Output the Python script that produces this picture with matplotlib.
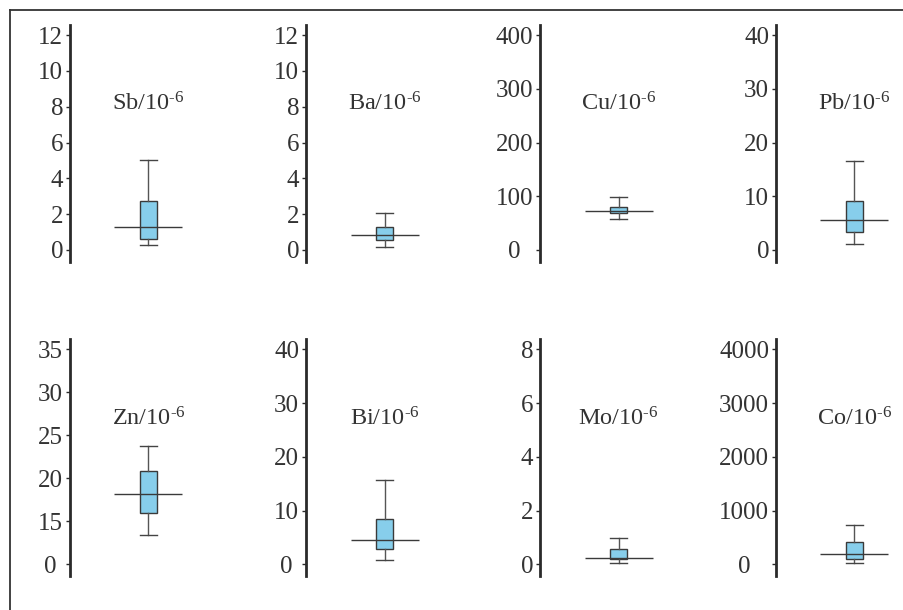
import numpy as np
import matplotlib.pyplot as plt
from matplotlib import transforms
from matplotlib.lines import Line2D

plt.rcParams['font.family'] = ['Liberation Serif', 'DejaVu Serif']
plt.rcParams['mathtext.fontset'] = 'custom'
plt.rcParams['mathtext.rm'] = 'Liberation Serif'

# data (10^-6)
elements = ['Sb', 'Ba', 'Cu', 'Pb', 'Zn', 'Bi', 'Mo', 'Co']
whislo = [0.28, 0.15, 57, 1.1, 13.4, 0.8, 0.06, 19]
q1 = [0.61, 0.56, 68, 3.3, 16.0, 2.9, 0.20, 93]
med = [1.27, 0.84, 72.6, 5.6, 18.2, 4.5, 0.25, 192]
q3 = [2.72, 1.30, 80.6, 9.2, 20.85, 8.5, 0.58, 409]
whishi = [5.0, 2.05, 98, 16.6, 23.7, 15.7, 0.99, 731]

yticks = [
    [0, 2, 4, 6, 8, 10, 12],
    [0, 2, 4, 6, 8, 10, 12],
    [0, 100, 200, 300, 400],
    [0, 10, 20, 30, 40],
    [10, 15, 20, 25, 30, 35],       # broken axis, bottom tick shown as 0
    [0, 10, 20, 30, 40],
    [0, 2, 4, 6, 8],
    [0, 1000, 2000, 3000, 4000],
]
yticklabels = [
    ['0', '2', '4', '6', '8', '10', '12'],
    ['0', '2', '4', '6', '8', '10', '12'],
    ['0', '100', '200', '300', '400'],
    ['0', '10', '20', '30', '40'],
    ['0', '15', '20', '25', '30', '35'],
    ['0', '10', '20', '30', '40'],
    ['0', '2', '4', '6', '8'],
    ['0', '1000', '2000', '3000', '4000'],
]
center_labels = [False, False, True, False, True, True, False, True]

# layout in pixels
W, H = 904, 610
spine_x = [70, 306, 540, 776]
top_tick_y = [35, 349.3]
tick_span = 215
box_pos = 78.5
box_w = 17
med_half = 34
text_col = '#333333'
line_col = '#3a3a3a'

fig = plt.figure(figsize=(W / 100, H / 100), dpi=100)
fig.patch.set_facecolor('white')

# outer frame (top and left edges)
fig.add_artist(Line2D([9.5 / W, 1], [1 - 9.5 / H, 1 - 9.5 / H], color='#333333', lw=1.3))
fig.add_artist(Line2D([9.5 / W, 9.5 / W], [0, 1 - 9.5 / H], color='#333333', lw=1.3))

axes = []
for i, el in enumerate(elements):
    row, col = divmod(i, 4)
    top = top_tick_y[row] - 10
    bottom = top_tick_y[row] + tick_span + 12
    ax = fig.add_axes([spine_x[col] / W, 1 - bottom / H, 140 / W, (bottom - top) / H])
    t = yticks[i]
    pp = (t[-1] - t[0]) / tick_span
    ax.set_ylim(t[0] - 12 * pp, t[-1] + 10 * pp)
    ax.set_xlim(0, 140)

    stats = [dict(med=med[i], q1=q1[i], q3=q3[i], whislo=whislo[i], whishi=whishi[i], fliers=[])]
    ax.bxp(stats, positions=[box_pos], widths=[box_w], capwidths=[box_w],
           patch_artist=True, showfliers=False, manage_ticks=False,
           boxprops=dict(facecolor='#87CEEB', edgecolor=line_col, linewidth=1.0),
           whiskerprops=dict(color='#555555', linewidth=1.0),
           capprops=dict(color='#444444', linewidth=1.0),
           medianprops=dict(visible=False))
    ax.hlines(med[i], box_pos - med_half, box_pos + med_half, color=line_col, lw=1.0, zorder=4)

    trans = transforms.blended_transform_factory(ax.transData, ax.transAxes)
    ax.text(box_pos, 0.665, '$\\mathregular{%s/10^{\u20106}}$' % el, transform=trans,
            ha='center', va='center', fontsize=17.5, color=text_col)

    for s in ['top', 'right', 'bottom']:
        ax.spines[s].set_visible(False)
    ax.spines['left'].set_linewidth(2)
    ax.spines['left'].set_color('#2a2a2a')
    ax.set_xticks([])
    ax.set_yticks(t)
    ax.set_yticklabels(yticklabels[i])
    ax.tick_params(axis='y', direction='out', length=3, width=1, pad=2,
                   labelsize=18, labelcolor=text_col, color='#2a2a2a')
    ax.patch.set_alpha(0)
    axes.append(ax)

# centre tick labels in panels where the widest label sets the column
fig.canvas.draw()
r = fig.canvas.get_renderer()
for i, ax in enumerate(axes):
    if not center_labels[i]:
        continue
    maxw = max(lb.get_window_extent(r).width for lb in ax.get_yticklabels())
    ax.tick_params(axis='y', pad=2 + maxw / 2 * 72 / fig.dpi)
    plt.setp(ax.get_yticklabels(), ha='center')

plt.savefig('out.png', dpi=100, facecolor='white')
